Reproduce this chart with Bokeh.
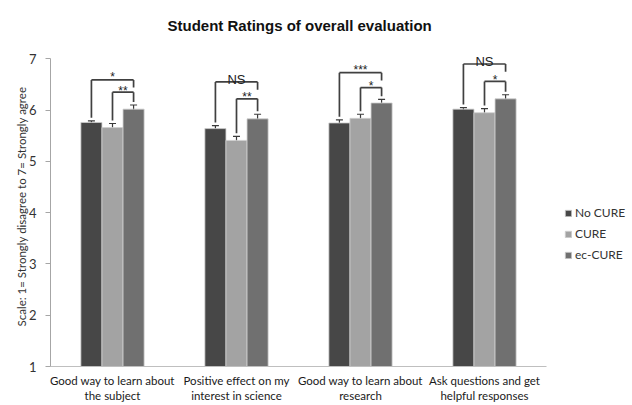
from bokeh.plotting import figure
from bokeh.models import (ColumnDataSource, Range1d, FixedTicker, Legend, LegendItem,
                          Whisker, TeeHead)
from bokeh.core.properties import value
from bokeh.embed import file_html
from bokeh.resources import INLINE

# Survey items (x categories)
categories = [
    "Good way to learn about\nthe subject",
    "Positive effect on my\ninterest in science",
    "Good way to learn about\nresearch",
    "Ask questions and get\nhelpful responses",
]
series = ["No CURE", "CURE", "ec-CURE"]

# Mean ratings and standard errors per series
no_cure = [5.76, 5.64, 5.75, 6.02]
cure = [5.66, 5.41, 5.84, 5.95]
ec_cure = [6.02, 5.83, 6.14, 6.22]
no_cure_err = [0.03, 0.06, 0.06, 0.03]
cure_err = [0.08, 0.08, 0.08, 0.08]
ec_cure_err = [0.08, 0.09, 0.07, 0.08]

# Significance brackets: No CURE vs ec-CURE (outer), CURE vs ec-CURE (inner)
outer_sig = ["*", "NS", "***", "NS"]
inner_sig = ["**", "**", "*", "*"]
outer_top = [6.59, 6.55, 6.73, 6.90]
inner_top = [6.35, 6.22, 6.44, 6.56]

colors = ["#474747", "#a3a3a3", "#707070"]
bar_w = 0.17
offsets = [-bar_w, 0.0, bar_w]
means = [no_cure, cure, ec_cure]
errs = [no_cure_err, cure_err, ec_cure_err]

n = len(categories)
# the frame runs on past the last category to leave room for the legend
x_end = n * 582 / 496

p = figure(width=632, height=405, output_backend="svg", toolbar_location=None,
           x_range=Range1d(0, x_end), y_range=Range1d(1, 7.3),
           min_border_left=50, min_border_right=0, min_border_top=43,
           min_border_bottom=37)
p.background_fill_color = "white"
p.border_fill_color = "white"
p.outline_line_color = None
p.xgrid.visible = False
p.ygrid.visible = False

centers = [i + 0.5 for i in range(n)]

renderers = []
for s, off, col, m, e in zip(series, offsets, colors, means, errs):
    xs = [c + off for c in centers]
    src = ColumnDataSource(dict(x=xs, top=m,
                                upper=[a + b for a, b in zip(m, e)],
                                lower=[a - b for a, b in zip(m, e)]))
    r = p.vbar(x="x", top="top", bottom=1, width=bar_w, source=src,
               fill_color=col, line_color="#cfcfcf", line_width=0.8)
    renderers.append((s, r))
    w = Whisker(base="x", upper="upper", lower="lower", source=src,
                line_color="#3a3a3a", line_width=1.2,
                upper_head=TeeHead(size=7, line_color="#3a3a3a", line_width=1.2),
                lower_head=TeeHead(size=7, line_color="#3a3a3a", line_width=1.2))
    p.add_layout(w)

# Bracket geometry derived from bar heights
gap = 0.06
x0s, y0s, x1s, y1s = [], [], [], []
tx, ty, tt, tsize = [], [], [], []
for i, c in enumerate(centers):
    xa, xb, xc = c + offsets[0], c + offsets[1], c + offsets[2]
    a_top = no_cure[i] + no_cure_err[i] + gap
    b_top = cure[i] + cure_err[i] + gap
    c_top = ec_cure[i] + ec_cure_err[i] + gap
    # outer bracket
    x0s += [xa, xa, xc]
    y0s += [a_top, outer_top[i], outer_top[i]]
    x1s += [xa, xc, xc]
    y1s += [outer_top[i], outer_top[i], outer_top[i] - 0.15]
    # inner bracket
    x0s += [xb, xb, xc]
    y0s += [b_top, inner_top[i], inner_top[i]]
    x1s += [xb, xc, xc]
    y1s += [inner_top[i], inner_top[i], c_top]
    tx += [(xa + xc) / 2, (xb + xc) / 2]
    ty += [outer_top[i] + 0.055, inner_top[i] + 0.03]
    tt += [outer_sig[i], inner_sig[i]]
    tsize += ["13px" if outer_sig[i] == "NS" else "12px", "12px"]

p.segment(x0=x0s, y0=y0s, x1=x1s, y1=y1s, line_color="#404040", line_width=1.7)
p.text(x="x", y="y", text="t", text_font_size="size",
       source=ColumnDataSource(dict(x=tx, y=ty, t=tt, size=tsize)),
       text_align="center", text_baseline="alphabetic",
       text_font=value("Liberation Sans"), text_color="#222222")

# Axes
p.xaxis.ticker = FixedTicker(ticks=centers)
p.xaxis.bounds = (0, n)
p.xaxis.major_label_overrides = {c: lab for c, lab in zip(centers, categories)}
p.xaxis.major_tick_line_color = None
p.xaxis.major_tick_out = 0
p.xaxis.major_tick_in = 0
p.xaxis.minor_tick_line_color = None
p.xaxis.minor_tick_out = 0
p.xaxis.axis_line_color = "#bfbfbf"
p.xaxis.major_label_text_font = "Lato"
p.xaxis.major_label_text_font_size = "11.5px"
p.xaxis.major_label_text_color = "#1a1a1a"
p.xaxis.major_label_standoff = 7

p.yaxis.ticker = FixedTicker(ticks=[1, 2, 3, 4, 5, 6, 7])
p.yaxis.bounds = (1, 7)
p.yaxis.axis_line_color = "#a6a6a6"
p.yaxis.major_tick_line_color = "#a6a6a6"
p.yaxis.major_tick_out = 5
p.yaxis.major_tick_in = 0
p.yaxis.minor_tick_line_color = None
p.yaxis.major_label_text_font = "Lato"
p.yaxis.major_label_text_font_size = "13px"
p.yaxis.major_label_text_color = "#333333"
p.yaxis.major_label_standoff = 9
p.yaxis.axis_label = "Scale: 1= Strongly disagree to 7=  Strongly agree"
p.yaxis.axis_label_text_font = "Lato"
p.yaxis.axis_label_text_font_style = "normal"
p.yaxis.axis_label_text_font_size = "11.5px"
p.yaxis.axis_label_text_color = "#333333"
p.yaxis.axis_label_standoff = -2

# Title
p.title.text = "Student Ratings of overall evaluation"
p.title.align = "left"
p.title.offset = 117
p.title.text_font = "Liberation Sans"
p.title.text_font_size = "15px"
p.title.text_font_style = "bold"
p.title.text_color = "#111111"
p.title.standoff = 20

# Legend, to the right of the bars
legend = Legend(items=[LegendItem(label=s, renderers=[r]) for s, r in renderers],
                location=(514, 104), orientation="vertical",
                glyph_width=8, glyph_height=8, label_height=14, spacing=6,
                padding=0, margin=0, label_standoff=3,
                label_text_font="Lato", label_text_font_size="12px",
                label_text_color="#333333",
                border_line_color=None, background_fill_alpha=0)
p.add_layout(legend, "center")

open("out.html", "w").write(file_html(p, INLINE))
